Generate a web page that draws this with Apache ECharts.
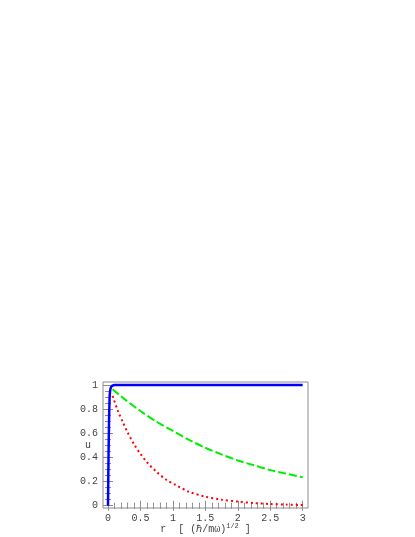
<!DOCTYPE html>
<html>
<head>
<meta charset="utf-8">
<script src="https://cdn.jsdelivr.net/npm/echarts@6/dist/echarts.min.js"></script>
<style>
  html, body { margin: 0; padding: 0; background: #fff; }
  #main { width: 415px; height: 537px; }
</style>
</head>
<body>
<div id="main"></div>
<script>
// 读图得到的数据
var rBlue = [0, 0.008, 0.016, 0.025, 0.035, 0.05, 0.07, 0.1, 0.15, 3];
var uBlue = [0, 0.4, 0.7, 0.9, 0.96, 0.985, 0.995, 1, 1, 1];

var rGreen = [0.07, 0.25, 0.5, 0.75, 1, 1.25, 1.5, 1.75, 2, 2.25, 2.5, 2.75, 3];
var uGreen = [0.965, 0.885, 0.785, 0.695, 0.62, 0.545, 0.48, 0.425, 0.375, 0.335, 0.295, 0.265, 0.235];

var rRed = [0.07, 0.15, 0.23, 0.3, 0.4, 0.5, 0.6, 0.75, 0.9, 1.05, 1.25, 1.5, 1.75, 2, 2.25, 2.5, 2.75, 3];
var uRed = [0.91, 0.79, 0.69, 0.61, 0.51, 0.43, 0.36, 0.28, 0.215, 0.17, 0.115, 0.075, 0.05, 0.034, 0.022, 0.014, 0.009, 0.006];

// 刻度
var xMajor = [0, 0.5, 1, 1.5, 2, 2.5, 3];
var xMinor = [0.1, 0.2, 0.3, 0.4, 0.6, 0.7, 0.8, 0.9, 1.1, 1.2, 1.3, 1.4, 1.6, 1.7, 1.8, 1.9,
              2.1, 2.2, 2.3, 2.4, 2.6, 2.7, 2.8, 2.9];
var yMajor = [0, 0.2, 0.4, 0.6, 0.8, 1];
var yMinor = [0.05, 0.1, 0.15, 0.25, 0.3, 0.35, 0.45, 0.5, 0.55, 0.65, 0.7, 0.75, 0.85, 0.9, 0.95];

function pairs(xs, ys) {
  return xs.map(function (x, i) { return [x, ys[i]]; });
}

var X_MIN = -0.077, X_MAX = 3.082, Y_MIN = -0.019, Y_MAX = 1.025;
var frameColor = '#8c8c8c';
var labelFont = { color: '#444', fontFamily: 'Liberation Mono', fontSize: 10 };

function makeAxis(pos, min, max, ticks, len, withLabel) {
  return {
    type: 'value', position: pos, min: min, max: max,
    axisLine: { show: false },
    splitLine: { show: false },
    axisTick: { show: true, inside: true, length: len, customValues: ticks,
                lineStyle: { color: frameColor, width: 1 } },
    axisLabel: withLabel ? Object.assign({ show: true, margin: 5, customValues: ticks }, labelFont)
                         : { show: false }
  };
}
function xAx(pos, ticks, len, withLabel) { return makeAxis(pos, X_MIN, X_MAX, ticks, len, withLabel); }
function yAx(pos, ticks, len, withLabel) { return makeAxis(pos, Y_MIN, Y_MAX, ticks, len, withLabel); }

var chart = echarts.init(document.getElementById('main'));

var xBottom = xAx('bottom', xMajor, 5, true);
xBottom.name = '{t|r  [ (ℏ/mω)}{s|1/2}{t| ]}';
xBottom.nameLocation = 'middle';
xBottom.nameGap = 15;
xBottom.nameMoveOverlap = false;
xBottom.nameTextStyle = {
  rich: {
    t: { fontFamily: 'Liberation Mono', fontSize: 10, color: '#444' },
    s: { fontFamily: 'Liberation Mono', fontSize: 7, color: '#444', verticalAlign: 'top', padding: [0, 0, 5, 0] }
  }
};

var yLeft = yAx('left', yMajor, 5, true);
yLeft.name = 'u';
yLeft.nameLocation = 'middle';
yLeft.nameGap = 12;
yLeft.nameRotate = 0;
yLeft.nameMoveOverlap = false;
yLeft.nameTextStyle = { fontFamily: 'Liberation Mono', fontSize: 10, color: '#444' };

chart.setOption({
  animation: false,
  backgroundColor: '#fff',
  grid: {
    left: 103, top: 382, right: 107, bottom: 29,
    containLabel: false, outerBoundsMode: 'none',
    show: true, borderColor: frameColor, borderWidth: 1, backgroundColor: 'transparent'
  },
  xAxis: [
    xBottom,
    xAx('bottom', xMinor, 3, false),
    xAx('top', xMajor, 5, false),
    xAx('top', xMinor, 3, false)
  ],
  yAxis: [
    yLeft,
    yAx('left', yMinor, 3, false),
    yAx('right', yMajor, 5, false),
    yAx('right', yMinor, 3, false)
  ],
  series: [
    {
      type: 'line', data: pairs(rRed, uRed), showSymbol: false, smooth: 0.3,
      lineStyle: { color: '#ff0000', width: 2, type: [2, 3] }
    },
    {
      type: 'line', data: pairs(rGreen, uGreen), showSymbol: false, smooth: 0.3,
      lineStyle: { color: '#00ee00', width: 2, type: [8, 3] }
    },
    {
      type: 'line', data: pairs(rBlue, uBlue), showSymbol: false, smooth: 0.2,
      lineStyle: { color: '#0000ff', width: 2.5 }
    }
  ]
});
</script>
</body>
</html>
